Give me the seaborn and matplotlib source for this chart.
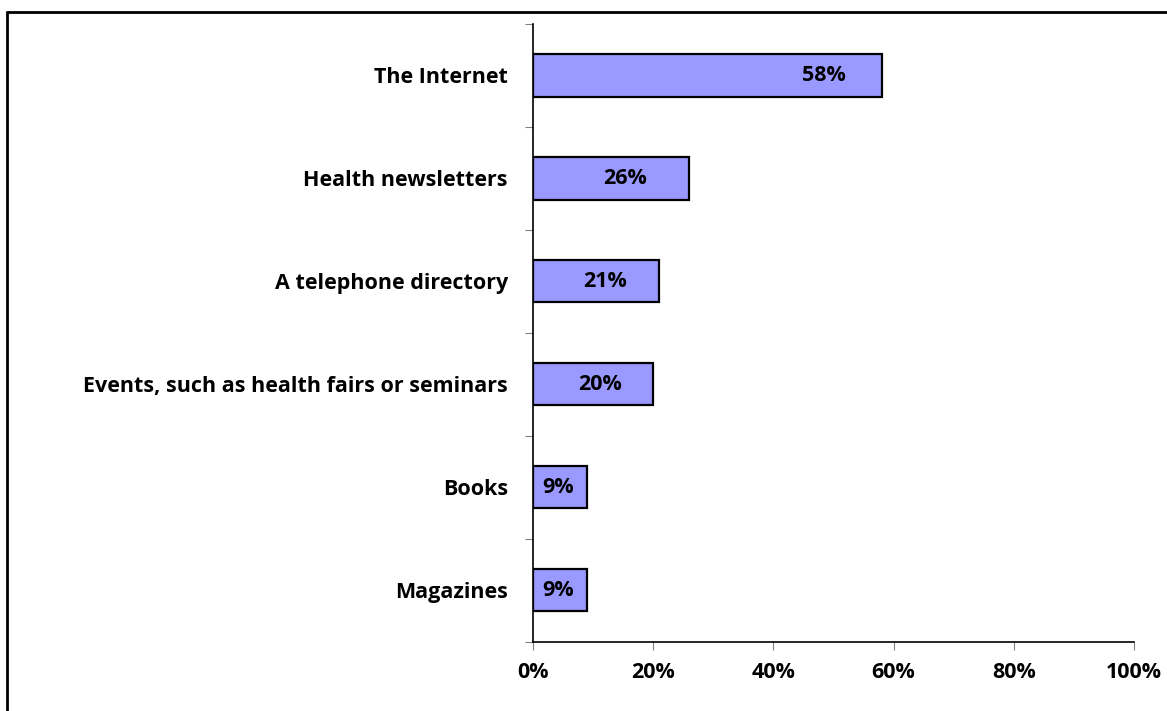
import matplotlib
matplotlib.use("Agg")
import matplotlib.pyplot as plt
import seaborn as sns
import pandas as pd
from matplotlib.lines import Line2D
from matplotlib.ticker import FixedLocator, PercentFormatter

sources = ["The Internet", "Health newsletters", "A telephone directory",
           "Events, such as health fairs or seminars", "Books", "Magazines"]
shares = [58, 26, 21, 20, 9, 9]
x_ticks = [0, 20, 40, 60, 80, 100]

# horizontal spot (in % units) where each value label sits inside its bar
label_x = [48.4, 15.4, 12.0, 11.1, 4.2, 4.2]

sns.set_theme(style="white")
plt.rcParams["font.family"] = ["Open Sans", "DejaVu Sans"]
plt.rcParams["font.weight"] = "bold"
plt.rcParams["text.color"] = "black"
plt.rcParams["xtick.color"] = "black"
plt.rcParams["ytick.color"] = "black"

FS = 15.5

df = pd.DataFrame({"source": sources, "share": shares})

fig = plt.figure(figsize=(11.67, 7.11), dpi=100)
ax = fig.add_axes([0.4567, 0.0977, 0.9717 - 0.4567, 0.9662 - 0.0977])

sns.barplot(data=df, x="share", y="source", orient="h", color="#9999FF",
            saturation=1, edgecolor="black", linewidth=1.6, width=0.41, ax=ax)

for i, (v, lx) in enumerate(zip(shares, label_x)):
    ax.text(lx, i, f"{v}%", ha="center", va="center", fontsize=FS,
            fontweight="bold", color="black")

ax.set_xlim(0, 100)
ax.set_ylim(len(sources) - 0.5, -0.5)
ax.set_xticks(x_ticks)
ax.xaxis.set_major_formatter(PercentFormatter(decimals=0))
ax.set_xlabel("")
ax.set_ylabel("")

ax.yaxis.set_minor_locator(FixedLocator([i - 0.5 for i in range(len(sources) + 1)]))
ax.tick_params(axis="y", which="major", length=0, pad=18, labelsize=FS,
               labelcolor="black")
ax.tick_params(axis="y", which="minor", length=6, width=0.8, color="#808080", left=True)
ax.tick_params(axis="x", which="major", length=6, width=0.8, color="#808080",
               bottom=True, pad=9, labelsize=FS, labelcolor="black")
for lab in ax.get_xticklabels() + ax.get_yticklabels():
    lab.set_fontweight("bold")

for side in ("top", "right"):
    ax.spines[side].set_visible(False)
for side in ("left", "bottom"):
    ax.spines[side].set_color("black")
    ax.spines[side].set_linewidth(1.2)

# frame lines along the top and left of the figure
x0, y0 = 7 / 1167, 1 - 12 / 711
fig.add_artist(Line2D([x0, 1.0], [y0, y0], transform=fig.transFigure,
                      color="black", linewidth=2))
fig.add_artist(Line2D([x0, x0], [0.0, y0], transform=fig.transFigure,
                      color="black", linewidth=2))

fig.savefig("out.png", dpi=100)
